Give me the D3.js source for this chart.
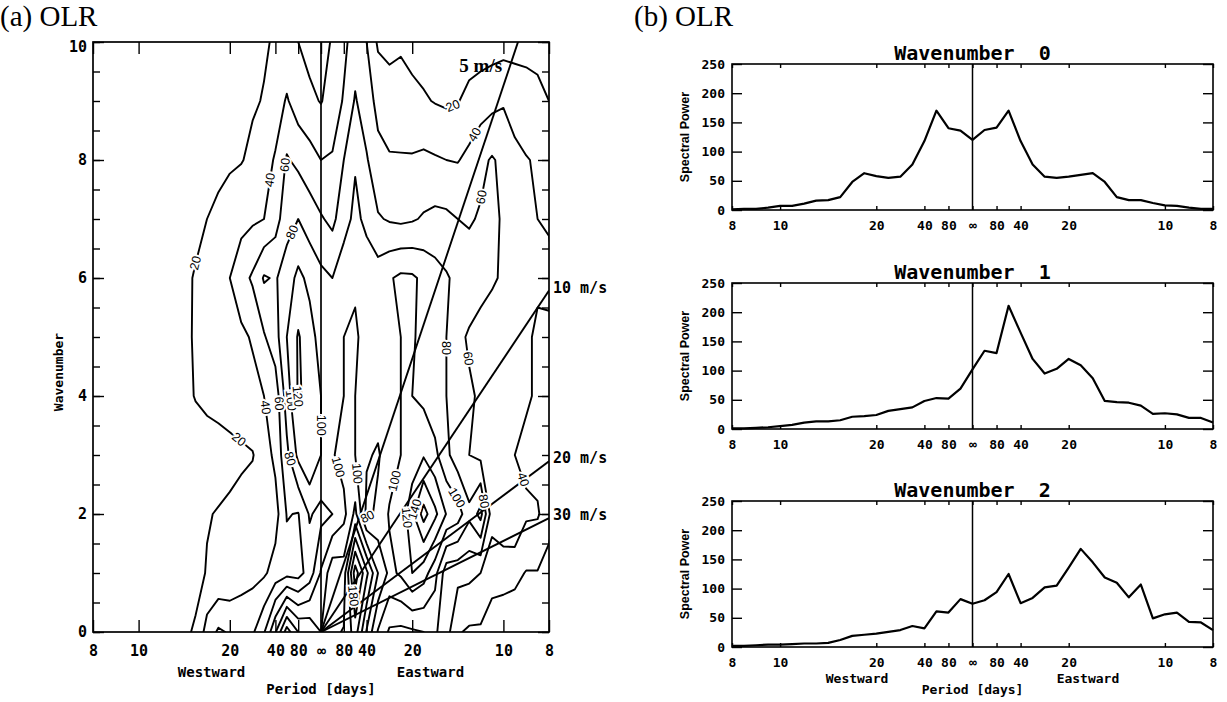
<!DOCTYPE html>
<html><head><meta charset="utf-8">
<script src="https://cdn.jsdelivr.net/npm/d3@7"></script>
<style>body{margin:0;background:#fff}</style>
</head><body>
<svg id="c" width="1227" height="702" xmlns="http://www.w3.org/2000/svg"></svg>
<script>
// ---------------- DATA ----------------
const periodTickFreq   = [-1/8, -1/10, -1/20, -1/40, -1/80, 0, 1/80, 1/40, 1/20, 1/10, 1/8];
const periodTickLabels = ["8","10","20","40","80","\u221E","80","40","20","10","8"];
const freqStep = 1/160;          // frequency resolution (cycles/day)
const nFreq = 41;                // -20 .. +20 frequency bins (west negative)
const wavenumbers = [0,1,2,3,4,5,6,7,8,9,10];
const wavenumberTicks = [0,2,4,6,8,10];
const powerTicks = [0,50,100,150,200,250];
const contourLevels = [20,40,60,80,100,120,140,160,180,200];
const phaseSpeeds = [5,10,20,30];   // m/s

// spectral power, one row per zonal wavenumber, westward (left) -> eastward (right)
const power_k0  = [1,2,2,4,7,7,11,16,17,22,48,63,58,55,57,78,118,170,140,136,120,137,141,170,118,78,57,55,57,60,63,48,22,17,17,12,8,7,4,2,2];
const power_k1  = [1,1,2,3,5,7,11,13,13,15,21,22,24,31,34,37,48,53,52,69,102,134,130,211,165,120,95,103,120,109,87,48,46,45,40,26,27,25,19,19,11];
const power_k2  = [2,2,3,4,4,5,6,6,7,12,19,21,23,26,29,36,32,61,59,82,74,80,94,125,75,84,102,105,136,168,145,119,110,85,107,49,56,59,43,42,29];
const power_k3  = [3,3,4,4,5,6,7,8,9,10,12,13,15,17,19,30,45,75,105,118,100,98,108,100,82,78,90,100,105,118,105,85,68,60,55,50,45,40,36,33,30];
const power_k4  = [5,5,6,7,8,9,10,12,15,21,24,26,28,30,34,40,48,90,122,115,100,95,100,100,95,88,90,100,100,95,88,80,70,62,58,55,50,46,42,38,38];
const power_k5  = [4,4,5,6,7,8,10,12,16,22,27,30,33,36,42,58,72,100,122,108,92,90,100,102,95,90,95,100,102,95,88,80,64,58,55,52,48,45,42,38,36];
const power_k6  = [3,3,4,5,6,7,9,11,15,22,28,34,40,52,63,82,78,90,105,95,85,80,92,98,92,90,98,104,103,96,88,82,75,70,65,62,58,50,44,42,45];
const power_k7  = [3,3,4,4,5,6,7,9,11,14,20,25,30,34,37,40,52,72,80,70,62,55,72,85,75,62,58,56,58,62,65,64,60,58,62,64,58,50,44,40,38];
const power_k8  = [5,5,6,6,7,7,8,9,10,11,12,14,17,19,24,32,42,62,55,48,40,42,60,78,62,45,42,42,42,44,42,40,39,45,55,62,55,45,41,38,30];
const power_k9  = [6,7,7,8,8,9,9,10,11,12,13,14,15,16,18,21,30,42,30,24,19,28,42,62,48,35,28,26,24,22,19,17,19,26,30,34,38,32,28,24,20];
const power_k10 = [8,8,9,9,10,10,11,11,12,12,13,14,15,16,17,18,22,26,20,14,12,22,35,50,40,17,15,18,15,12,10,9,8,9,10,11,12,13,14,15,15];
const powerRows = [power_k0,power_k1,power_k2,power_k3,power_k4,power_k5,power_k6,power_k7,power_k8,power_k9,power_k10];
const lineWavenumbers = [0,1,2];

// ---------------- SETUP ----------------
const svg = d3.select('#c');
const MONO = '"DejaVu Sans Mono", "Liberation Mono", monospace';
const SERIF = '"Liberation Serif", "DejaVu Serif", serif';
const centerIdx = (nFreq - 1) / 2;
const freqOf = i => (i - centerIdx) * freqStep;
const fMax = 0.125;

svg.append('rect').attr('width',1227).attr('height',702).attr('fill','#fff');

// ================= PANEL (a) =================
const A = {l:93, r:549, t:42, b:632};
const xA = d3.scaleLinear().domain([-fMax, fMax]).range([A.l, A.r]);
const yA = d3.scaleLinear().domain([0, 10]).range([A.b, A.t]);

svg.append('text').attr('x',0).attr('y',26).attr('font-family',SERIF).attr('font-size',29).text('(a) OLR');

svg.append('clipPath').attr('id','clipA').append('rect')
  .attr('x',A.l).attr('y',A.t).attr('width',A.r-A.l).attr('height',A.b-A.t);

const nK = wavenumbers.length;
const gridValues = [];
powerRows.forEach(row => row.forEach(v => gridValues.push(v)));
const contours = d3.contours().size([nFreq, nK]).thresholds(contourLevels)(gridValues);

const toPix = (c, r) => [xA(freqOf(c - 0.5)), yA(r - 0.5)];
const proj = d3.geoTransform({point(x, y){ const p = toPix(x, y); this.stream.point(p[0], p[1]); }});
const gpath = d3.geoPath(proj);

const gA = svg.append('g').attr('clip-path','url(#clipA)');
gA.selectAll('path.ct').data(contours).join('path').attr('class','ct')
  .attr('d', gpath).attr('fill','none').attr('stroke','#000').attr('stroke-width',1.9)
  .attr('stroke-linejoin','round');

// phase speed lines: k = f * circumference / (c * 86400)
const circ = 4.0e7;
const kOf = (f, c) => f * circ / (c * 86400);
phaseSpeeds.forEach(c => {
  const kEnd = kOf(fMax, c);
  gA.append('line').attr('x1', xA(0)).attr('y1', yA(0)).attr('x2', xA(fMax)).attr('y2', yA(kEnd))
    .attr('stroke','#000').attr('stroke-width',1.9);
  if (kEnd <= 10) {
    svg.append('text').attr('x', A.r + 4).attr('y', yA(kEnd) - 3).attr('dominant-baseline','central')
      .attr('font-family',MONO).attr('font-weight','bold').attr('font-size',15).text(c + ' m/s');
  } else {
    const kL = 9.6, fL = kL * c * 86400 / circ;
    svg.append('text').attr('x', xA(fL) - 8).attr('y', yA(kL)).attr('text-anchor','end').attr('dominant-baseline','central')
      .attr('font-family',SERIF).attr('font-weight','bold').attr('font-size',19).text(c + ' m/s');
  }
});
// infinity (zero frequency) line
svg.append('line').attr('x1',xA(0)).attr('x2',xA(0)).attr('y1',A.t).attr('y2',A.b).attr('stroke','#000').attr('stroke-width',1.7);

// contour labels
const labelG = svg.append('g');
contours.forEach(ct => {
  ct.coordinates.forEach(poly => poly.forEach(ring => {
    const segs = []; let cur = [];
    ring.forEach(([c, r]) => {
      const p = toPix(c, r);
      const inside = c > 0 && c < nFreq && r > 0 && r < nK && p[0] > A.l + 6 && p[0] < A.r - 6 && p[1] > A.t + 6 && p[1] < A.b - 6;
      if (!inside) { if (cur.length > 1) segs.push(cur); cur = []; }
      else cur.push(p);
    });
    if (cur.length > 1) segs.push(cur);
    segs.forEach(seg => {
      const cum = [0];
      for (let i = 1; i < seg.length; i++) cum.push(cum[i-1] + Math.hypot(seg[i][0]-seg[i-1][0], seg[i][1]-seg[i-1][1]));
      const L = cum[cum.length-1];
      if (L < 110) return;
      const n = L > 420 ? 2 : 1;
      for (let q = 1; q <= n; q++) {
        const target = L * q / (n + 1);
        let i = 1; while (i < cum.length - 1 && cum[i] < target) i++;
        const a = seg[i-1], b = seg[i];
        const t = (target - cum[i-1]) / Math.max(1e-6, cum[i] - cum[i-1]);
        const x = a[0] + (b[0]-a[0]) * t, y = a[1] + (b[1]-a[1]) * t;
        let ang = Math.atan2(b[1]-a[1], b[0]-a[0]) * 180 / Math.PI;
        if (ang > 90) ang -= 180; if (ang < -90) ang += 180;
        labelG.append('text').attr('transform', `translate(${x},${y}) rotate(${ang})`)
          .attr('text-anchor','middle').attr('dominant-baseline','central')
          .attr('font-family','"Liberation Sans", Arial, sans-serif').attr('font-size',12.5)
          .attr('stroke','#fff').attr('stroke-width',4).attr('paint-order','stroke').attr('fill','#000')
          .text(ct.value);
      }
    });
  }));
});

// axes panel (a)
svg.append('rect').attr('x',A.l).attr('y',A.t).attr('width',A.r-A.l).attr('height',A.b-A.t)
  .attr('fill','none').attr('stroke','#000').attr('stroke-width',1.7);

function styleAxis(g, size) {
  g.select('.domain').remove();
  g.selectAll('line').attr('stroke','#000').attr('stroke-width',1.4);
  g.selectAll('text').attr('font-family',MONO).attr('font-weight','bold').attr('font-size',size).attr('fill','#000');
}
const minorWn = d3.range(0, 10.001, 0.5);
let g;
g = svg.append('g').attr('transform',`translate(${A.l},0)`).call(d3.axisLeft(yA).tickValues(minorWn).tickSize(-7).tickFormat(''));
styleAxis(g, 14);
g = svg.append('g').attr('transform',`translate(${A.l},0)`).call(d3.axisLeft(yA).tickValues(wavenumberTicks).tickSize(-11).tickPadding(6).tickFormat(d3.format('d')));
styleAxis(g, 15);
g.selectAll('.tick text').filter(d => d === 10).attr('dy','0.6em');
g = svg.append('g').attr('transform',`translate(${A.r},0)`).call(d3.axisRight(yA).tickValues(minorWn).tickSize(-7).tickFormat(''));
styleAxis(g, 14);
g = svg.append('g').attr('transform',`translate(${A.r},0)`).call(d3.axisRight(yA).tickValues(wavenumberTicks).tickSize(-11).tickFormat(''));
styleAxis(g, 14);
g = svg.append('g').attr('transform',`translate(0,${A.t})`).call(d3.axisTop(xA).tickValues(periodTickFreq).tickSize(-12).tickFormat(''));
styleAxis(g, 14);
g = svg.append('g').attr('transform',`translate(0,${A.b})`).call(d3.axisBottom(xA).tickValues(periodTickFreq).tickSize(-12).tickPadding(13)
  .tickFormat((d,i) => periodTickLabels[i]));
styleAxis(g, 15);

svg.append('text').attr('transform',`translate(58,372) rotate(-90)`).attr('text-anchor','middle').attr('dominant-baseline','central')
  .attr('font-family',MONO).attr('font-weight','bold').attr('font-size',13).text('Wavenumber');
svg.append('text').attr('x',xA(-0.06)).attr('y',A.b+40).attr('text-anchor','middle').attr('dominant-baseline','central')
  .attr('font-family',MONO).attr('font-weight','bold').attr('font-size',14).text('Westward');
svg.append('text').attr('x',xA(0.06)).attr('y',A.b+40).attr('text-anchor','middle').attr('dominant-baseline','central')
  .attr('font-family',MONO).attr('font-weight','bold').attr('font-size',14).text('Eastward');
svg.append('text').attr('x',xA(0)).attr('y',A.b+57).attr('text-anchor','middle').attr('dominant-baseline','central')
  .attr('font-family',MONO).attr('font-weight','bold').attr('font-size',14).text('Period [days]');

// ================= PANEL (b) =================
svg.append('text').attr('x',634).attr('y',26).attr('font-family',SERIF).attr('font-size',29).text('(b) OLR');
const B = {l:732, r:1213, h:146};
const bTops = [64, 283, 501];
const xB = d3.scaleLinear().domain([-fMax, fMax]).range([B.l, B.r]);

lineWavenumbers.forEach((wn, idx) => {
  const top = bTops[idx], bot = top + B.h;
  const yB = d3.scaleLinear().domain([0, 250]).range([bot, top]);
  const row = powerRows[wn];
  const line = d3.line().x((d,i) => xB(freqOf(i))).y(d => yB(d));
  svg.append('path').attr('d', line(row)).attr('fill','none').attr('stroke','#000').attr('stroke-width',2.2).attr('stroke-linejoin','round');
  svg.append('line').attr('x1',xB(0)).attr('x2',xB(0)).attr('y1',top).attr('y2',bot).attr('stroke','#000').attr('stroke-width',1.5);
  svg.append('rect').attr('x',B.l).attr('y',top).attr('width',B.r-B.l).attr('height',B.h)
    .attr('fill','none').attr('stroke','#000').attr('stroke-width',1.6);
  let g2;
  g2 = svg.append('g').attr('transform',`translate(${B.l},0)`).call(d3.axisLeft(yB).tickValues(powerTicks).tickSize(-10).tickPadding(7));
  styleAxis(g2, 13);
  g2 = svg.append('g').attr('transform',`translate(${B.r},0)`).call(d3.axisRight(yB).tickValues(powerTicks).tickSize(-10).tickFormat(''));
  styleAxis(g2, 13);
  g2 = svg.append('g').attr('transform',`translate(0,${top})`).call(d3.axisTop(xB).tickValues(periodTickFreq).tickSize(-4).tickFormat(''));
  styleAxis(g2, 13);
  g2 = svg.append('g').attr('transform',`translate(0,${bot})`).call(d3.axisBottom(xB).tickValues(periodTickFreq).tickSize(-4).tickPadding(11)
    .tickFormat((d,i) => periodTickLabels[i]));
  styleAxis(g2, 13);
  svg.append('text').attr('x',xB(0)).attr('y',top-11).attr('text-anchor','middle').attr('dominant-baseline','central')
    .attr('font-family',MONO).attr('font-weight','bold').attr('font-size',20).attr('xml:space','preserve')
    .text('Wavenumber  ' + wn);
  svg.append('text').attr('transform',`translate(685,${top + B.h/2}) rotate(-90)`).attr('text-anchor','middle').attr('dominant-baseline','central')
    .attr('font-family','"Liberation Sans Narrow", "Liberation Sans", sans-serif').attr('font-weight','bold').attr('font-size',12.5).text('Spectral Power');
  if (idx === lineWavenumbers.length - 1) {
    svg.append('text').attr('x',xB(-0.06)).attr('y',bot+31).attr('text-anchor','middle').attr('dominant-baseline','central')
      .attr('font-family',MONO).attr('font-weight','bold').attr('font-size',13).text('Westward');
    svg.append('text').attr('x',xB(0.06)).attr('y',bot+31).attr('text-anchor','middle').attr('dominant-baseline','central')
      .attr('font-family',MONO).attr('font-weight','bold').attr('font-size',13).text('Eastward');
    svg.append('text').attr('x',xB(0)).attr('y',bot+42).attr('text-anchor','middle').attr('dominant-baseline','central')
      .attr('font-family',MONO).attr('font-weight','bold').attr('font-size',13).text('Period [days]');
  }
});
</script>
</body></html>
